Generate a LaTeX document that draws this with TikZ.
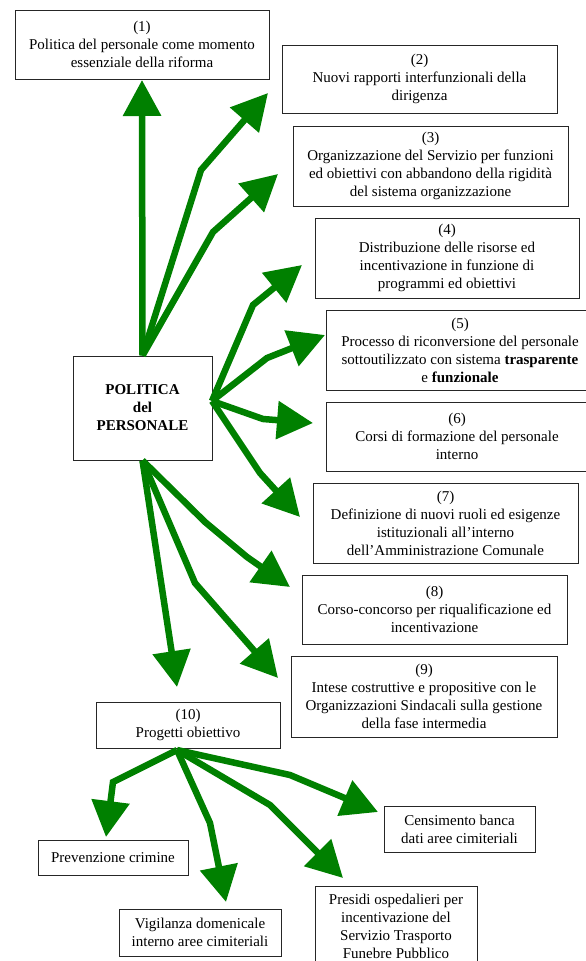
\documentclass[tikz,border=0pt]{standalone}
\usepackage{fontspec}
\setmainfont{Liberation Serif}
\usetikzlibrary{arrows.meta}

\definecolor{arrowgreen}{RGB}{0,128,0}

\begin{document}
\begin{tikzpicture}[x=1pt,y=-1pt,
    box/.style={draw=black!85, line width=0.9pt, align=center, inner sep=0pt,
        font=\fontsize{15}{18}\selectfont},
    link/.style={draw=arrowgreen, line width=6.5pt,
        -{Triangle[length=36pt,width=37pt]}}]
    \useasboundingbox (0,0) rectangle (586,961);

    % Central box
    \node[box, minimum width=139pt, minimum height=104pt] (pol) at (142.5,408)
        {\textbf{POLITICA}\\\textbf{del}\\\textbf{PERSONALE}};

    % Boxes (1) to (9)
    \node[box, minimum width=254pt, minimum height=69pt] (n1) at (142,44.5)
        {(1)\\Politica del personale come momento\\essenziale della riforma};
    \node[box, minimum width=275pt, minimum height=68pt] (n2) at (419.5,79)
        {(2)\\Nuovi rapporti interfunzionali della\\dirigenza};
    \node[box, minimum width=275pt, minimum height=80pt] (n3) at (430.5,166)
        {(3)\\Organizzazione del Servizio per funzioni\\ed obiettivi con abbandono della rigidità\\del sistema organizzazione};
    \node[box, minimum width=264pt, minimum height=80pt] (n4) at (447,258)
        {(4)\\Distribuzione delle risorse ed\\incentivazione in funzione di\\programmi ed obiettivi};
    \node[box, minimum width=268pt, minimum height=80pt] (n5) at (460,350)
        {(5)\\Processo di riconversione del personale\\sottoutilizzato con sistema \textbf{trasparente}\\e \textbf{funzionale}};
    \node[box, minimum width=262pt, minimum height=69pt] (n6) at (457,436.5)
        {(6)\\Corsi di formazione del personale\\interno};
    \node[box, minimum width=265pt, minimum height=80pt] (n7) at (445.5,523)
        {(7)\\Definizione di nuovi ruoli ed esigenze\\istituzionali all’interno\\dell’Amministrazione Comunale};
    \node[box, minimum width=265pt, minimum height=69pt] (n8) at (434.5,609.5)
        {(8)\\Corso-concorso per riqualificazione ed\\incentivazione};
    \node[box, minimum width=266pt, minimum height=81pt] (n9) at (424,696.5)
        {(9)\\Intese costruttive e propositive con le\\Organizzazioni Sindacali sulla gestione\\della fase intermedia};

    % Box (10) and its projects
    \node[box, minimum width=184pt, minimum height=46pt] (n10) at (188,725)
        {(10)\\Progetti obiettivo};
    \node[box, minimum width=150pt, minimum height=35pt] (prev) at (113,857.5)
        {Prevenzione crimine};
    \node[box, minimum width=162pt, minimum height=47pt] (vig) at (200,932.5)
        {Vigilanza domenicale\\interno aree cimiteriali};
    \node[box, minimum width=162pt, minimum height=80pt] (pres) at (396,926)
        {Presidi ospedalieri per\\incentivazione del\\Servizio Trasporto\\Funebre Pubblico};
    \node[box, minimum width=151pt, minimum height=46pt] (cens) at (459.5,829)
        {Censimento banca\\dati aree cimiteriali};

    % Start points on the boxes
    \coordinate (pe) at (212,401);
    \coordinate (src10) at (177,750);

    % Arrows out of the central box
    \draw[link] (pol.north) -- (142,80);
    \draw[link] (pol.north) -- (201,170) -- (268,93);
    \draw[link] (pol.north) -- (213,232) -- (278,174);
    \draw[link] (pe) -- (253,305) -- (302,265);
    \draw[link] (pe) -- (267,358) -- (325,335);
    \draw[link] (pe) -- (263,419) -- (313,423);
    \draw[link] (pe) -- (260,473) -- (300,517);
    \draw[link] (pol.south) -- (205,522) -- (247,557) -- (290,587);
    \draw[link] (pol.south) -- (195,583) -- (278,678);
    \draw[link] (pol.south) -- (177,687);

    % Arrows out of box (10)
    \draw[link] (src10) -- (113,782) -- (106,837);
    \draw[link] (src10) -- (210,823) -- (226,902);
    \draw[link] (src10) -- (270,805) -- (343,878);
    \draw[link] (src10) -- (290,775) -- (378,812);
\end{tikzpicture}
\end{document}
